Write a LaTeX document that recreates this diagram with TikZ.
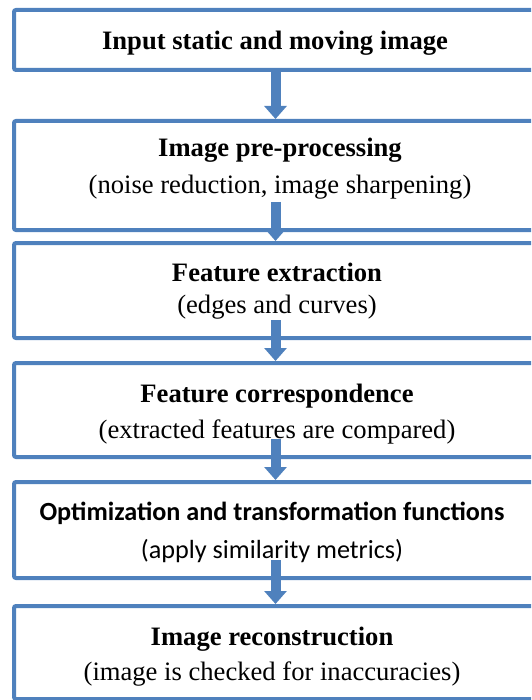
\documentclass[tikz,border=0pt]{standalone}
\usepackage{fontspec}
\setmainfont{Liberation Serif}
\newfontfamily\calibri{Carlito}
\usetikzlibrary{arrows.meta}
\definecolor{stageblue}{HTML}{4F81BD}

\begin{document}
\begin{tikzpicture}
	[x=0.5pt, y=-0.5pt,
	 stage/.style={draw=stageblue, line width=2pt, fill=white, rounded corners=1pt,
	               minimum width=261.5pt, inner sep=0pt},
	 head/.style={anchor=base, inner sep=0pt, font=\fontsize{13.3}{16}\selectfont\bfseries},
	 note/.style={anchor=base, inner sep=0pt, font=\fontsize{13.3}{16}\selectfont},
	 flow/.style={draw=stageblue, line width=5pt, -{Triangle[width=11pt, length=6.5pt]}}]
   \clip (0,0) rectangle (531,700);
   % boxes
   \node[stage, minimum height=30pt]   (b1) at (275.5,40)    {};
   \node[stage, minimum height=54.5pt] (b2) at (275.5,175.5) {};
   \node[stage, minimum height=47.5pt] (b3) at (275.5,290.5) {};
   \node[stage, minimum height=47pt]   (b4) at (275.5,410)   {};
   \node[stage, minimum height=48pt]   (b5) at (275.5,530)   {};
   \node[stage, minimum height=46.5pt] (b6) at (275.5,652.5) {};
   % texts
   \node[head] (h1) at (275,50)  {Input static and moving image};
   \node[head] (h2) at (280,157) {Image pre-processing};
   \node[note] (n2) at (280,193) {(noise reduction, image sharpening)};
   \node[head] (h3) at (277,281) {Feature extraction};
   \node[note] (n3) at (277,313) {(edges and curves)};
   \node[head] (h4) at (277,402) {Feature correspondence};
   \node[note] (n4) at (277,438) {(extracted features are compared)};
   \node[head, font=\fontsize{13.1}{16}\selectfont\calibri\bfseries] (h5) at (272,520)
        {Optimization and transformation functions};
   \node[note, font=\fontsize{13.1}{16}\selectfont\calibri] (n5) at (272,558)
        {(apply similarity metrics)};
   \node[head] (h6) at (272,645) {Image reconstruction};
   \node[note] (n6) at (272,680) {(image is checked for inaccuracies)};
   % arrows
   \path[flow] (b1.south) -- (b2.north);
   \path[flow] ([yshift=15pt]b2.south) -- (b3.north);
   \path[flow] ([yshift=10pt]b3.south) -- (b4.north);
   \path[flow] ([yshift=10pt]b4.south) -- (b5.north);
   \path[flow] ([yshift=10pt]b5.south) -- (b6.north);
\end{tikzpicture}
\end{document}
